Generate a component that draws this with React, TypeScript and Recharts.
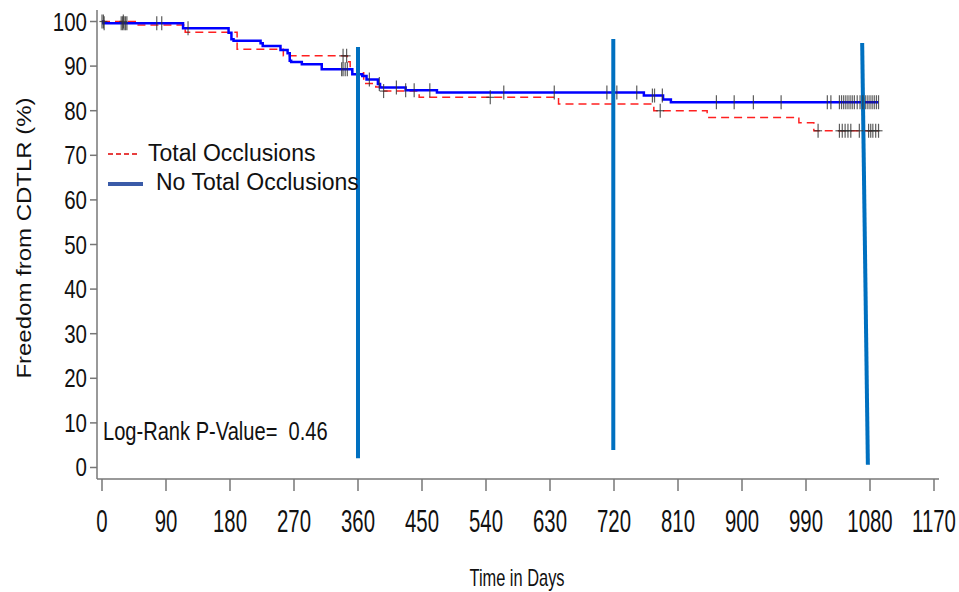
import React from "react";
import { ComposedChart, Line, Scatter, XAxis, YAxis, ReferenceLine } from "recharts";

// ---- data ----
const xTicks = [0, 90, 180, 270, 360, 450, 540, 630, 720, 810, 900, 990, 1080, 1170];
const yTicks = [0, 10, 20, 30, 40, 50, 60, 70, 80, 90, 100];

const blueDays = [0, 2, 114, 178, 182, 185, 223, 226, 251, 261, 264, 266, 281, 309, 352, 366, 372, 388, 391, 427, 471, 762, 789, 800, 1092];
const blueSurv = [100, 99.6, 98.5, 97.5, 96.0, 95.7, 95.1, 94.5, 93.6, 92.9, 91.2, 90.9, 90.4, 89.3, 88.2, 87.8, 87.0, 86.0, 85.2, 84.6, 84.1, 83.4, 82.5, 81.9, 81.9];

const redDays = [0, 49, 117, 190, 255, 345, 349, 360, 368, 385, 396, 446, 642, 776, 851, 980, 1001, 1092];
const redSurv = [100, 99.2, 97.6, 93.8, 92.3, 91.0, 89.9, 88.5, 86.1, 85.3, 84.4, 83.0, 81.5, 80.0, 78.5, 77.3, 75.5, 75.5];

const blueCensorDays = [0, 3, 27, 29, 31, 33, 35, 77, 84, 121, 337, 339, 342, 345, 376, 390, 414, 427, 439, 461, 565, 636, 710, 724, 752, 774, 777, 788, 864, 889, 916, 955, 1020, 1025,
  1037, 1040, 1043, 1046, 1049, 1052, 1055, 1058, 1062, 1066, 1070, 1074, 1077, 1080, 1083, 1086, 1089, 1092];
const redCensorDays = [2, 30, 339, 344, 396, 546, 785, 1007, 1037, 1041, 1045, 1049, 1053, 1065, 1078, 1081, 1084, 1088, 1092];

// annotation segments (day, %)
const refSegments = [
  [{ x: 360, y: 94.3 }, { x: 360, y: 2.1 }],
  [{ x: 719, y: 96.1 }, { x: 719, y: 3.9 }],
  [{ x: 1069, y: 95.2 }, { x: 1077, y: 0.6 }],
];

const legendLabels = ["Total Occlusions", "No Total Occlusions"];
const pValueText = "Log-Rank P-Value=\u00a0 0.46";

// ---- helpers ----
const levelAt = (days: number[], surv: number[], t: number) => {
  let v = surv[0];
  for (let i = 0; i < days.length; i++) if (days[i] <= t) v = surv[i];
  return v;
};
const blueData = blueDays.map((d, i) => ({ x: d, y: blueSurv[i] }));
const redData = redDays.map((d, i) => ({ x: d, y: redSurv[i] }));
const blueCensor = blueCensorDays.map((d) => ({ x: d, y: levelAt(blueDays, blueSurv, d) }));
const redCensor = redCensorDays.map((d) => ({ x: d, y: levelAt(redDays, redSurv, d) }));

const ARIAL = "'Liberation Sans', Arial, sans-serif";

const BlueTick = (props: any) => {
  const { cx, cy } = props;
  if (cx == null || cy == null) return null;
  return <line x1={cx} x2={cx} y1={cy - 7} y2={cy + 7} stroke="#333" strokeOpacity={0.8} strokeWidth={1.2} />;
};
const RedTick = (props: any) => {
  const { cx, cy } = props;
  if (cx == null || cy == null) return null;
  return (
    <g>
      <line x1={cx} x2={cx} y1={cy - 7} y2={cy + 7} stroke="#333" strokeOpacity={0.8} strokeWidth={1.2} />
      <line x1={cx - 4} x2={cx + 4} y1={cy} y2={cy} stroke="#333" strokeOpacity={0.8} strokeWidth={1.2} />
    </g>
  );
};

const XTick = (props: any) => {
  const { x, y, payload } = props;
  return (
    <text transform={`translate(${x},${y + 39}) scale(0.815,1.22)`} textAnchor="middle" fontFamily={ARIAL} fontSize={25} fill="#111">
      {payload.value}
    </text>
  );
};
const YTick = (props: any) => {
  const { x, y, payload } = props;
  return (
    <text transform={`translate(${x},${y + 9}) scale(0.82,1)`} textAnchor="end" fontFamily={ARIAL} fontSize={25} fill="#111">
      {payload.value}
    </text>
  );
};

export default function App() {
  return (
    <div style={{ position: "absolute", left: 0, top: 0, width: 959, height: 592, background: "#fff" }}>
      <ComposedChart width={959} height={592} margin={{ top: 10, right: 20, bottom: 53, left: 0 }}>
        <XAxis
          type="number"
          dataKey="x"
          domain={[-7.03, 1177.03]}
          ticks={xTicks}
          allowDataOverflow
          tickSize={12}
          tickMargin={2}
          tick={<XTick />}
          height={60}
          stroke="#777"
          strokeWidth={1.5}
          interval={0}
        />
        <YAxis
          type="number"
          dataKey="y"
          domain={[-2.58, 102.58]}
          ticks={yTicks}
          allowDataOverflow
          tickSize={7}
          tickMargin={3}
          tick={<YTick />}
          width={97}
          stroke="#777"
          strokeWidth={1.5}
          interval={0}
        />
        <Line data={redData} dataKey="y" type="stepAfter" stroke="#ff2020" strokeWidth={1.5} strokeDasharray="8 5" dot={false} activeDot={false} isAnimationActive={false} />
        <Line data={blueData} dataKey="y" type="stepAfter" stroke="#0000ff" strokeWidth={2.5} dot={false} activeDot={false} isAnimationActive={false} />
        <Scatter data={blueCensor} dataKey="y" shape={<BlueTick />} isAnimationActive={false} />
        <Scatter data={redCensor} dataKey="y" shape={<RedTick />} isAnimationActive={false} />
        {refSegments.map((seg, i) => (
          <ReferenceLine key={i} segment={seg} stroke="#0070c0" strokeWidth={4} ifOverflow="visible" />
        ))}
      </ComposedChart>
      <svg width={959} height={592} style={{ position: "absolute", left: 0, top: 0, pointerEvents: "none" }}>
        <line x1={108} x2={139} y1={154} y2={154} stroke="#e00000" strokeWidth={1.5} strokeDasharray="5 3" />
        <text x={148} y={161} fontFamily={ARIAL} fontSize={23} fill="#111">{legendLabels[0]}</text>
        <line x1={108} x2={143} y1={184} y2={184} stroke="#3a5ba8" strokeWidth={4} />
        <text x={156} y={190} fontFamily={ARIAL} fontSize={23} fill="#111">{legendLabels[1]}</text>
        <text transform="translate(103,440) scale(0.82,1.04)" fontFamily={ARIAL} fontSize={24.5} fill="#111">{pValueText}</text>
        <text transform="translate(31,238) rotate(-90) scale(1.2,1)" textAnchor="middle" fontFamily={ARIAL} fontSize={20} fill="#111">
          Freedom from CDTLR (%)
        </text>
        <text transform="translate(517,586) scale(0.82,1.18)" textAnchor="middle" fontFamily={ARIAL} fontSize={20} fill="#111">
          Time in Days
        </text>
      </svg>
    </div>
  );
}
